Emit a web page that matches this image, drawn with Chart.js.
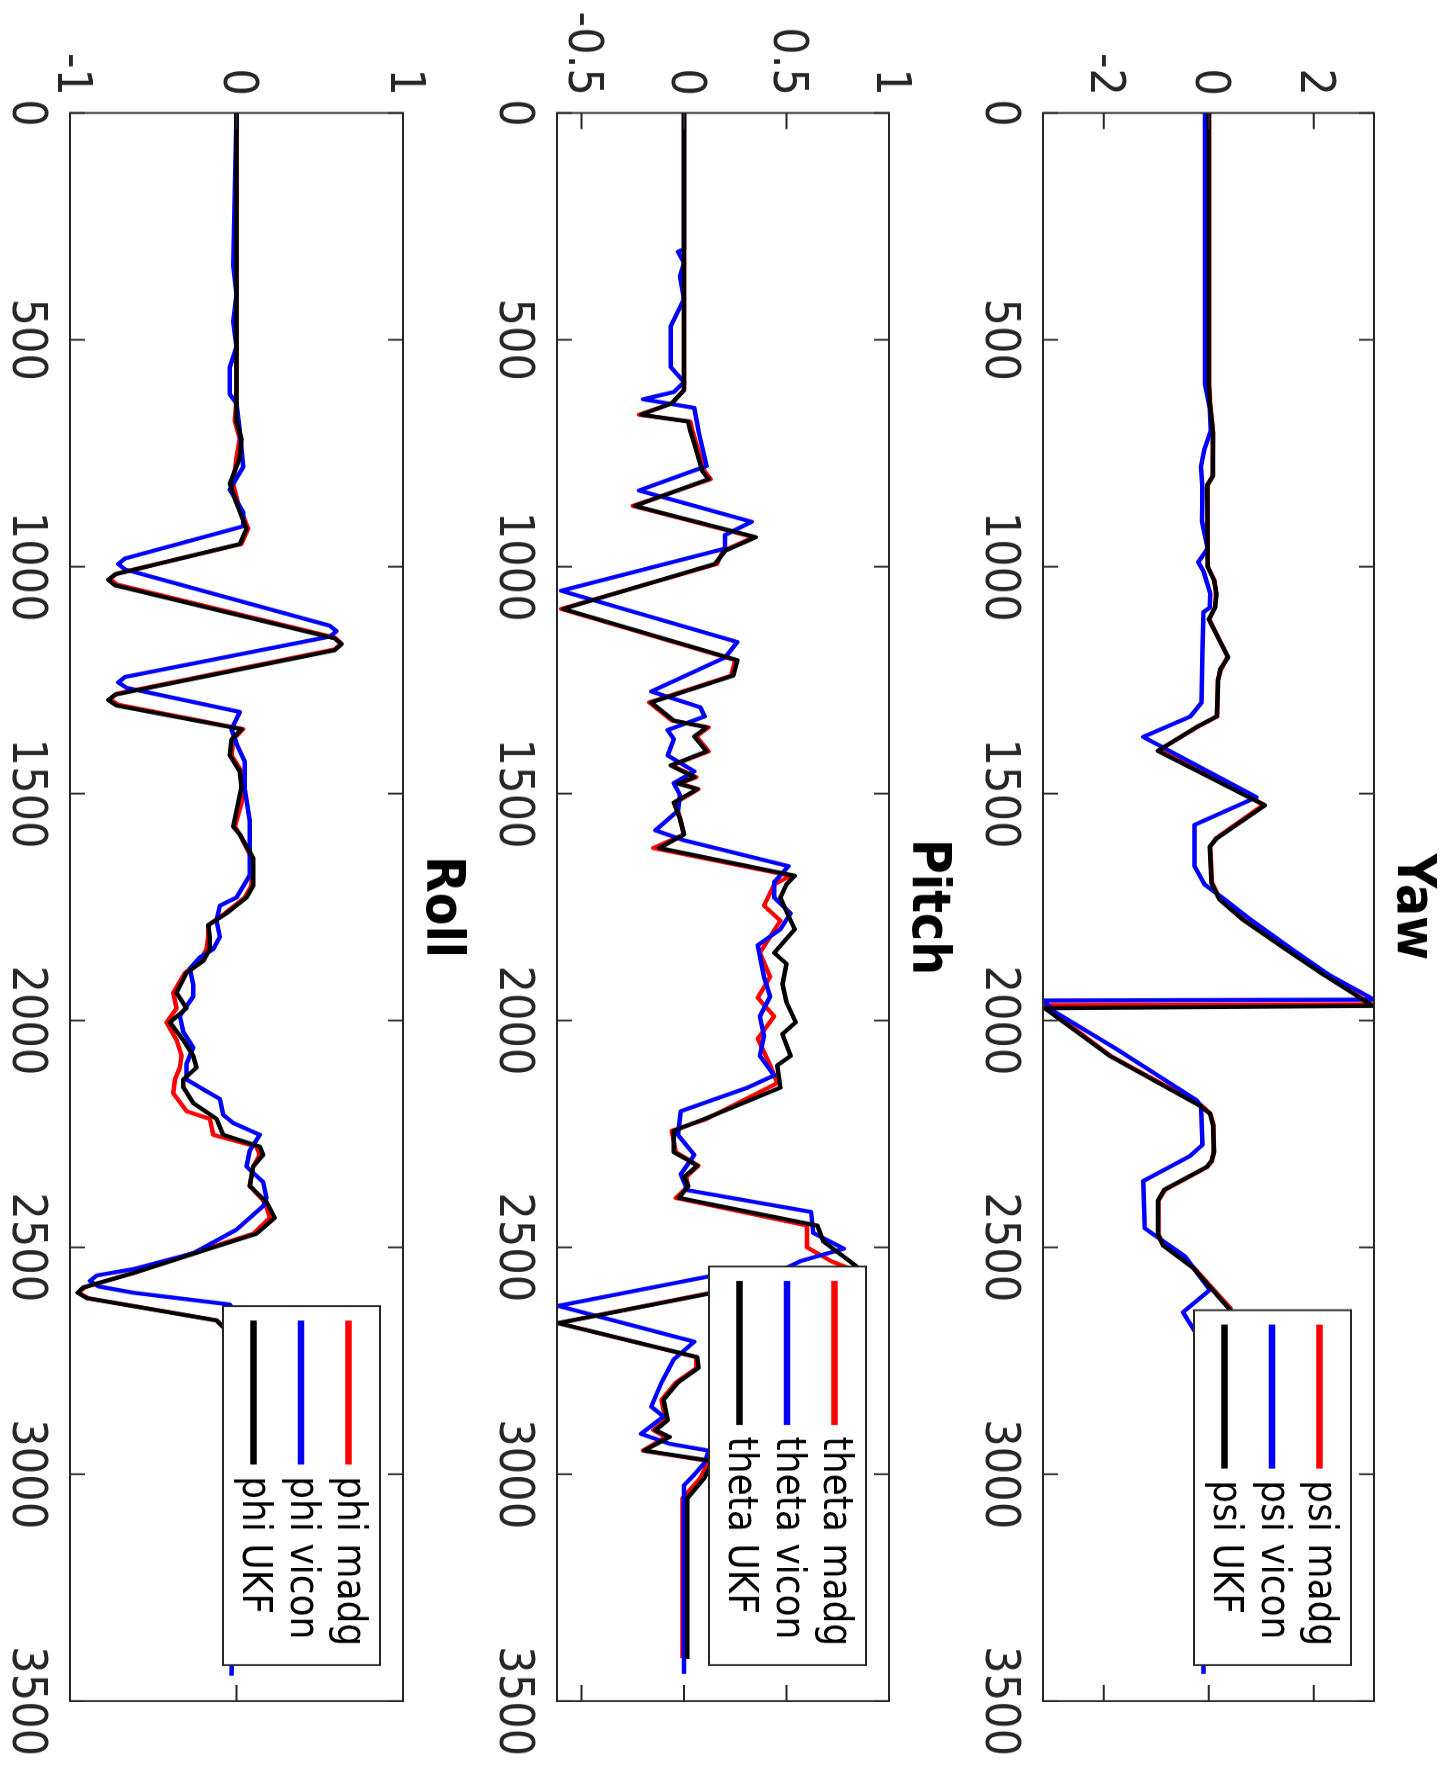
<!DOCTYPE html>
<html>
<head>
<meta charset="utf-8">
<script src="https://cdn.jsdelivr.net/npm/chart.js@4/dist/chart.umd.min.js"></script>
<style>
html,body{margin:0;padding:0;background:#fff;overflow:hidden;width:1453px;height:1775px;}
#fig{position:absolute;left:0;top:0;width:1972px;height:1453px;transform-origin:0 0;transform:translate(1453px,0) rotate(90deg) scale(0.9001,1);}
#fig canvas{position:absolute;left:0;}
</style>
</head>
<body>
<div id="fig">
<canvas id="cYaw" width="1972" height="475" style="top:15px"></canvas>
<canvas id="cPitch" width="1972" height="476" style="top:500px"></canvas>
<canvas id="cRoll" width="1972" height="477" style="top:986px"></canvas>
</div>
<script>
// ---------- DATA ----------
const xTicks = [0, 500, 1000, 1500, 2000, 2500, 3000, 3500];
const yawTicks = [-2, 0, 2];
const pitchTicks = [-0.5, 0, 0.5, 1];
const rollTicks = [-1, 0, 1];

const titles = ['Yaw', 'Pitch', 'Roll'];
const yawLabels = ['psi madg', 'psi vicon', 'psi UKF'];
const pitchLabels = ['theta madg', 'theta vicon', 'theta UKF'];
const rollLabels = ['phi madg', 'phi vicon', 'phi UKF'];

const yawUKF = [[0,0],[600,0],[640,0.02],[705,0.08],[800,0.08],[820,-0.03],[1000,-0.02],[1030,0.1],[1060,0.15],[1090,0.12],[1116,0.0],[1200,0.37],[1225,0.22],[1250,0.18],[1330,0.15],[1351,-0.2],[1406,-0.97],[1526,1.07],[1599,0.15],[1617,0.02],[1696,0.05],[1733,0.2],[1778,0.65],[1844,1.48],[1900,2.2],[1940,2.75],[1968,3.12],[1973,-3.13],[2078,-1.89],[2188,-0.17],[2205,0.02],[2230,0.08],[2290,0.1],[2310,0.05],[2323,-0.04],[2345,-0.4],[2373,-0.85],[2397,-0.97],[2471,-0.97],[2496,-0.87],[2545,-0.3],[2637,0.4],[2660,0.3],[2720,0.05],[2850,0.0],[3405,0.0]];
const yawMadg = [[0,0.01],[600,0.01],[640,0.03],[705,0.08],[800,0.07],[820,-0.02],[1000,-0.02],[1030,0.11],[1060,0.14],[1090,0.12],[1116,0.01],[1198,0.36],[1225,0.24],[1250,0.17],[1330,0.16],[1351,-0.18],[1404,-0.95],[1524,1.05],[1599,0.13],[1617,0.03],[1696,0.06],[1733,0.22],[1778,0.67],[1844,1.5],[1900,2.22],[1940,2.77],[1964,3.1],[1966,-3.16],[2078,-1.87],[2186,-0.15],[2205,0.03],[2230,0.09],[2290,0.1],[2310,0.06],[2323,-0.03],[2345,-0.38],[2373,-0.83],[2397,-0.96],[2471,-0.96],[2496,-0.86],[2545,-0.28],[2635,0.42],[2660,0.3],[2720,0.05],[2850,0.01],[3405,0.01]];
const yawVicon = [[0,-0.07],[600,-0.07],[650,0.02],[700,0.04],[740,-0.08],[780,-0.15],[830,-0.12],[900,-0.13],[960,-0.02],[990,-0.2],[1010,-0.1],[1060,0.03],[1090,0.02],[1100,-0.1],[1180,-0.12],[1300,-0.14],[1330,-0.35],[1375,-1.25],[1508,0.91],[1569,-0.27],[1660,-0.27],[1700,-0.08],[1733,0.3],[1778,0.8],[1844,1.6],[1900,2.3],[1954,3.15],[1956,-3.15],[1980,-2.95],[2060,-1.8],[2176,-0.23],[2188,-0.15],[2274,-0.12],[2299,-0.36],[2354,-1.25],[2458,-1.22],[2471,-1.06],[2520,-0.45],[2560,-0.2],[2594,0.02],[2643,-0.49],[2692,-0.23],[2750,-0.12],[3000,-0.1],[3440,-0.1]];

const pitchUKF = [[0,0],[611,0],[640,-0.06],[665,-0.21],[680,0.02],[700,0.03],[729,0.05],[760,0.07],[790,0.09],[807,0.12],[866,-0.24],[935,0.35],[965,0.2],[994,0.15],[1093,-0.59],[1206,0.26],[1240,0.24],[1299,-0.16],[1339,-0.05],[1354,0.11],[1374,0.05],[1407,0.11],[1438,-0.065],[1464,0.05],[1478,-0.03],[1490,0.065],[1520,-0.05],[1555,-0.02],[1590,0.0],[1620,-0.12],[1681,0.54],[1700,0.5],[1729,0.47],[1760,0.5],[1799,0.54],[1830,0.48],[1851,0.44],[1875,0.5],[1920,0.48],[1960,0.5],[2004,0.545],[2030,0.48],[2078,0.52],[2099,0.455],[2148,0.47],[2217,0.1],[2243,-0.05],[2290,-0.05],[2320,0.065],[2345,0.0],[2365,0.02],[2391,-0.025],[2452,0.65],[2487,0.68],[2531,0.81],[2545,0.85],[2603,0.11],[2667,-0.615],[2742,0.065],[2766,0.07],[2798,-0.03],[2836,-0.1],[2881,-0.08],[2903,-0.14],[2918,-0.07],[2948,-0.195],[2971,0.14],[3008,0.1],[3053,0.016],[3407,0.016]];
const pitchMadg = [[0,0],[611,0],[640,-0.06],[665,-0.22],[680,0.03],[700,0.04],[729,0.06],[760,0.08],[790,0.1],[807,0.13],[866,-0.25],[935,0.34],[965,0.19],[994,0.16],[1093,-0.6],[1206,0.25],[1240,0.23],[1299,-0.17],[1339,-0.06],[1354,0.12],[1374,0.06],[1407,0.12],[1438,-0.06],[1464,0.06],[1478,-0.02],[1490,0.07],[1520,-0.04],[1555,-0.02],[1590,0.0],[1620,-0.15],[1681,0.52],[1700,0.44],[1747,0.39],[1780,0.47],[1851,0.37],[1904,0.42],[1950,0.36],[1991,0.44],[2040,0.36],[2099,0.42],[2138,0.455],[2217,0.11],[2243,-0.06],[2290,-0.04],[2320,0.07],[2345,0.01],[2365,0.02],[2391,-0.04],[2452,0.6],[2500,0.6],[2531,0.72],[2545,0.8],[2603,0.1],[2667,-0.615],[2742,0.06],[2766,0.06],[2798,-0.04],[2836,-0.11],[2881,-0.09],[2903,-0.15],[2918,-0.09],[2948,-0.2],[2971,0.12],[3008,0.08],[3053,-0.008],[3405,-0.008]];
const pitchVicon = [[0,0],[300,0],[306,-0.03],[330,0.0],[360,-0.02],[410,0.0],[470,-0.065],[560,-0.065],[593,0.0],[615,-0.05],[631,-0.2],[650,0.05],[700,0.07],[778,0.11],[832,-0.22],[901,0.33],[930,0.2],[960,0.2],[1053,-0.6],[1166,0.26],[1200,0.2],[1275,-0.16],[1310,0.08],[1330,0.1],[1360,-0.08],[1380,-0.05],[1416,-0.08],[1451,0.05],[1477,-0.05],[1503,-0.02],[1538,-0.03],[1581,-0.14],[1603,0.0],[1660,0.51],[1695,0.44],[1729,0.44],[1764,0.52],[1799,0.47],[1834,0.36],[1904,0.39],[1947,0.42],[1991,0.37],[2034,0.39],[2078,0.37],[2121,0.44],[2148,0.31],[2200,-0.016],[2252,-0.03],[2296,0.05],[2339,-0.016],[2374,0.016],[2422,0.62],[2468,0.63],[2503,0.78],[2530,0.57],[2545,0.5],[2565,0.11],[2629,-0.615],[2708,0.05],[2747,-0.05],[2798,-0.11],[2851,-0.16],[2873,-0.1],[2911,-0.21],[2933,-0.07],[2948,0.12],[2975,0.1],[3001,0.05],[3024,0.0],[3440,0.0]];

const rollUKF = [[0,0],[631,0],[680,0.0],[719,0.03],[760,0.02],[817,-0.04],[860,0.0],[916,0.06],[950,0.02],[1017,-0.73],[1029,-0.77],[1041,-0.73],[1158,0.59],[1171,0.63],[1184,0.59],[1282,-0.73],[1294,-0.77],[1306,-0.72],[1358,0.03],[1381,-0.03],[1416,-0.04],[1451,0.02],[1486,0.03],[1520,0.01],[1573,-0.02],[1590,0.02],[1642,0.1],[1703,0.1],[1729,0.06],[1764,-0.06],[1790,-0.17],[1816,-0.16],[1843,-0.16],[1869,-0.2],[1895,-0.3],[1939,-0.36],[1973,-0.3],[2004,-0.4],[2043,-0.32],[2078,-0.26],[2104,-0.24],[2130,-0.32],[2147,-0.32],[2182,-0.26],[2217,-0.12],[2252,-0.08],[2278,0.14],[2296,0.16],[2322,0.1],[2365,0.08],[2400,0.18],[2435,0.23],[2470,0.12],[2505,-0.18],[2557,-0.62],[2588,-0.92],[2600,-0.954],[2612,-0.9],[2661,-0.12],[2700,-0.01],[2800,0.0],[3405,0.0]];
const rollMadg = [[0,0],[631,0],[680,-0.01],[719,0.02],[760,0.0],[817,-0.02],[860,0.01],[916,0.07],[950,0.03],[1015,-0.72],[1027,-0.76],[1039,-0.72],[1156,0.59],[1169,0.63],[1182,0.59],[1280,-0.72],[1292,-0.76],[1304,-0.71],[1358,0.04],[1381,-0.02],[1416,-0.03],[1451,0.03],[1486,0.05],[1520,0.03],[1573,-0.01],[1590,0.02],[1642,0.09],[1703,0.09],[1729,0.05],[1764,-0.07],[1790,-0.17],[1816,-0.17],[1843,-0.18],[1869,-0.22],[1895,-0.31],[1939,-0.38],[1973,-0.36],[2004,-0.42],[2043,-0.36],[2078,-0.33],[2104,-0.34],[2130,-0.37],[2160,-0.38],[2200,-0.3],[2217,-0.16],[2252,-0.14],[2278,0.12],[2296,0.14],[2322,0.1],[2365,0.08],[2400,0.17],[2435,0.2],[2470,0.1],[2505,-0.2],[2557,-0.63],[2588,-0.91],[2600,-0.95],[2612,-0.89],[2661,-0.12],[2700,-0.01],[2800,0.0],[3405,0.0]];
const rollVicon = [[0,0],[336,-0.02],[400,0.0],[460,-0.02],[516,0.0],[560,-0.04],[620,-0.04],[640,0.0],[700,0.02],[780,0.04],[830,-0.04],[880,0.04],[911,0.04],[982,-0.67],[994,-0.71],[1006,-0.67],[1130,0.56],[1142,0.6],[1154,0.56],[1243,-0.67],[1255,-0.71],[1267,-0.66],[1320,0.02],[1358,-0.03],[1390,0.0],[1430,0.05],[1490,0.05],[1560,0.08],[1620,0.08],[1680,0.08],[1729,0.0],[1747,-0.1],[1780,-0.12],[1816,-0.1],[1843,-0.14],[1861,-0.22],[1886,-0.28],[1921,-0.26],[1947,-0.26],[1990,-0.34],[2025,-0.32],[2060,-0.26],[2095,-0.3],[2130,-0.3],[2156,-0.18],[2173,-0.1],[2208,-0.08],[2226,-0.02],[2252,0.14],[2287,0.08],[2322,0.06],[2356,0.16],[2391,0.18],[2409,0.16],[2461,0.0],[2513,-0.26],[2548,-0.62],[2562,-0.84],[2574,-0.88],[2586,-0.83],[2600,-0.62],[2626,-0.04],[2660,0.02],[3444,-0.03]];

// ---------- STYLE ----------
const AX = '#262626';
const RED = '#ff0000', BLUE = '#0000ff', BLACK = '#000000';
const FONT = "'DejaVu Sans', sans-serif";
Chart.defaults.font.family = FONT;
Chart.defaults.animation = false;

const toPts = arr => arr.map(p => ({x: p[0], y: p[1]}));

const framePlugin = {
  id: 'matlabFrame',
  afterDatasetsDraw(chart) {
    const {ctx, chartArea: a, scales: {x, y}} = chart;
    ctx.save();
    ctx.strokeStyle = AX;
    ctx.lineWidth = 2;
    ctx.beginPath();
    x.ticks.forEach(t => {
      const p = x.getPixelForValue(t.value);
      ctx.moveTo(p, a.bottom); ctx.lineTo(p, a.bottom - 15);
      ctx.moveTo(p, a.top); ctx.lineTo(p, a.top + 15);
    });
    y.ticks.forEach(t => {
      const p = y.getPixelForValue(t.value);
      ctx.moveTo(a.left, p); ctx.lineTo(a.left + 18, p);
      ctx.moveTo(a.right, p); ctx.lineTo(a.right - 18, p);
    });
    ctx.stroke();
    ctx.strokeRect(a.left, a.top, a.right - a.left, a.bottom - a.top);
    ctx.restore();
  },
  afterDraw(chart) {
    const {ctx, chartArea: a} = chart;
    const ds = chart.data.datasets;
    ctx.save();
    ctx.font = '40px ' + FONT;
    const tw = Math.max(...ds.map(d => ctx.measureText(d.label).width));
    const boxW = 16 + 160 + 13 + tw + 21;
    const boxR = a.right - 40;
    const boxL = boxR - boxW;
    const boxT = a.top + 23;
    const boxH = 157;
    ctx.fillStyle = '#ffffff';
    ctx.fillRect(boxL, boxT, boxW, boxH);
    ctx.strokeStyle = AX;
    ctx.lineWidth = 2;
    ctx.strokeRect(boxL, boxT, boxW, boxH);
    ds.forEach((d, i) => {
      const yy = boxT + 31.5 + i * 47.5;
      ctx.strokeStyle = d.borderColor;
      ctx.lineWidth = 6.5;
      ctx.beginPath();
      ctx.moveTo(boxL + 16, yy); ctx.lineTo(boxL + 176, yy);
      ctx.stroke();
      ctx.fillStyle = '#000';
      ctx.textAlign = 'left';
      ctx.textBaseline = 'middle';
      ctx.fillText(d.label, boxL + 189, yy);
    });
    ctx.restore();
  }
};

function makeChart(id, title, labels, madg, vicon, ukf, yMin, yMax, yTicks) {
  return new Chart(document.getElementById(id), {
    type: 'line',
    data: {
      datasets: [
        {label: labels[0], data: toPts(madg), borderColor: RED, order: 2},
        {label: labels[1], data: toPts(vicon), borderColor: BLUE, order: 1},
        {label: labels[2], data: toPts(ukf), borderColor: BLACK, order: 0}
      ]
    },
    options: {
      responsive: false,
      maintainAspectRatio: false,
      animation: false,
      devicePixelRatio: 1,
      elements: {
        line: {borderWidth: 4.5, tension: 0, borderJoinStyle: 'round', fill: false},
        point: {radius: 0, hoverRadius: 0}
      },
      layout: {padding: {left: 0, right: 79.9, top: 0, bottom: 0}},
      plugins: {
        legend: {display: false},
        tooltip: {enabled: false},
        title: {
          display: true, text: title, color: '#000', fullSize: false,
          font: {size: 53, weight: 'bold', lineHeight: 1},
          padding: {top: 0, bottom: 11}
        }
      },
      scales: {
        x: {
          type: 'linear', min: 0, max: 3500,
          afterBuildTicks: s => { s.ticks = xTicks.map(v => ({value: v})); },
          afterFit: s => { s.height = 80; },
          grid: {display: false, drawTicks: false},
          border: {display: false},
          ticks: {color: AX, font: {size: 48, lineHeight: 1}, padding: 21, autoSkip: false, maxRotation: 0, callback: v => String(v)}
        },
        y: {
          type: 'linear', min: yMin, max: yMax,
          afterBuildTicks: s => { s.ticks = yTicks.map(v => ({value: v})); },
          afterFit: s => { s.width = 125.5; },
          grid: {display: false, drawTicks: false},
          border: {display: false},
          ticks: {color: AX, font: {size: 48, lineHeight: 1}, padding: 19, autoSkip: false, callback: v => String(v)}
        }
      }
    },
    plugins: [framePlugin]
  });
}

makeChart('cYaw', titles[0], yawLabels, yawMadg, yawVicon, yawUKF, -3.16, 3.15, yawTicks);
makeChart('cPitch', titles[1], pitchLabels, pitchMadg, pitchVicon, pitchUKF, -0.62, 1.0, pitchTicks);
makeChart('cRoll', titles[2], rollLabels, rollMadg, rollVicon, rollUKF, -1, 1, rollTicks);
</script>
</body>
</html>
